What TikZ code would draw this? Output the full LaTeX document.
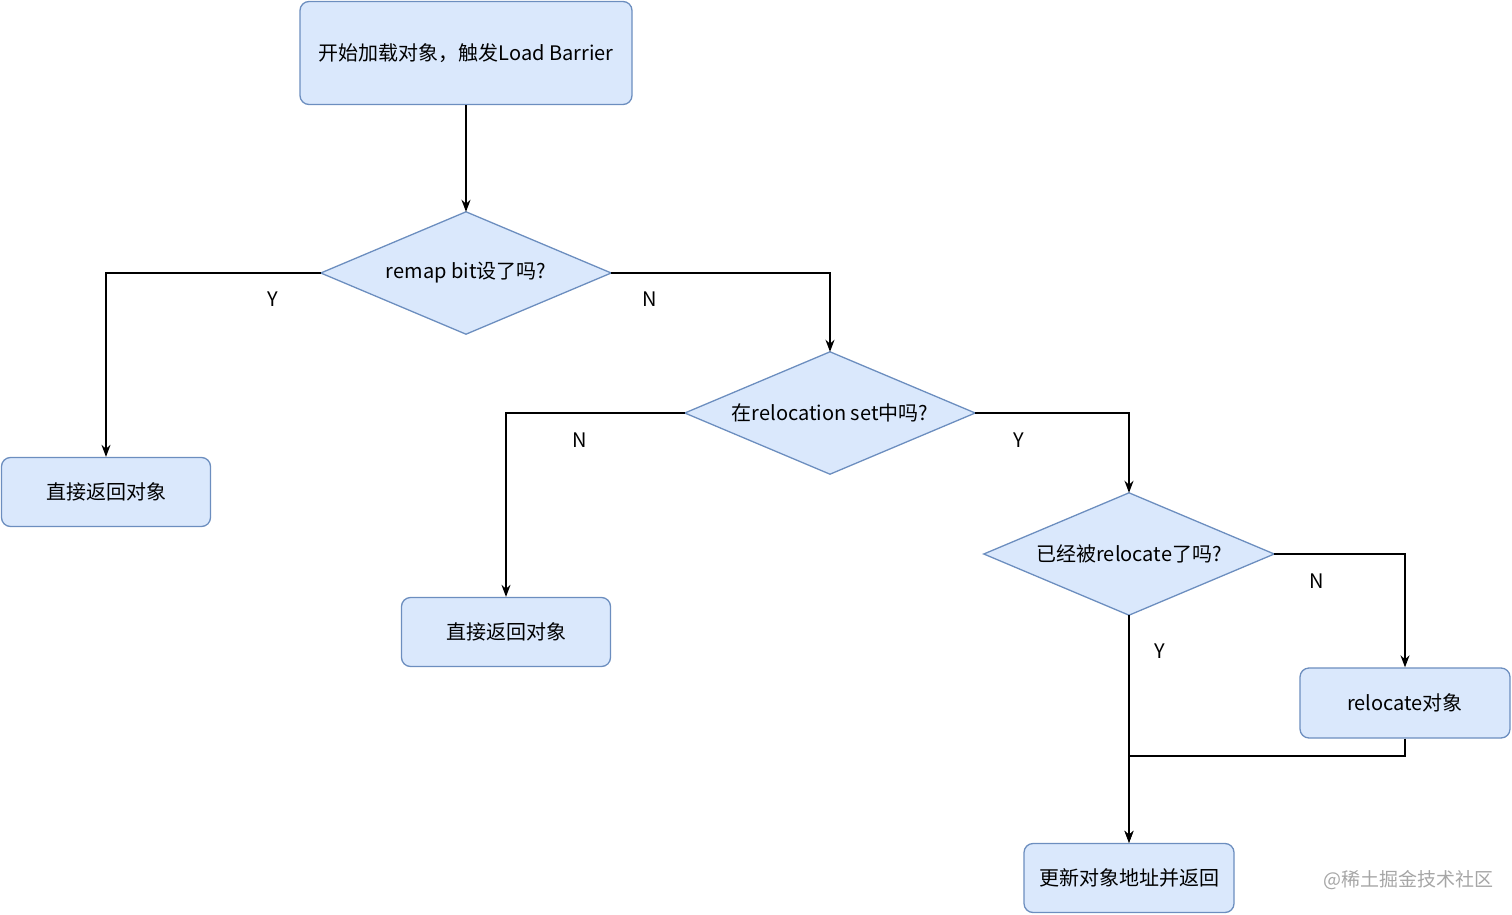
\documentclass[tikz,border=0pt]{standalone}
\usepackage{fontspec}
\setmainfont{Noto Sans CJK SC}
\usetikzlibrary{arrows.meta,backgrounds}
\definecolor{bfill}{HTML}{DAE8FC}
\definecolor{bdraw}{HTML}{6C8EBF}
\begin{document}
\begin{tikzpicture}[x=1pt,y=-1pt,
  box/.style={draw=bdraw,fill=bfill,rounded corners=9pt,line width=1.3pt,inner sep=0pt,font=\fontsize{20}{24}\selectfont},
  dia/.style={inner sep=0pt,minimum width=290pt,minimum height=122pt,font=\fontsize{20}{24}\selectfont},
  dshape/.style={draw=bdraw,fill=bfill,line width=1.3pt},
  arr/.style={-{Stealth[length=12pt,width=9pt]},line width=1.5pt},
  lbl/.style={font=\fontsize{20}{24}\selectfont}]
\useasboundingbox (0,0) rectangle (1512,915);
\node[box,minimum width=332pt,minimum height=103pt] (s) at (466,53) {开始加载对象，触发Load Barrier};
\node[dia] (d1) at (466,273) {remap bit设了吗?};
\node[box,minimum width=209pt,minimum height=69pt] (b1) at (106,492) {直接返回对象};
\node[dia] (d2) at (830,413) {在relocation set中吗?};
\node[box,minimum width=209pt,minimum height=69pt] (b2) at (506,632) {直接返回对象};
\node[dia] (d3) at (1129,554) {已经被relocate了吗?};
\node[box,minimum width=210pt,minimum height=70pt] (r) at (1405,703) {relocate对象};
\node[box,minimum width=210pt,minimum height=69pt] (f) at (1129,878) {更新对象地址并返回};
\node[font=\fontsize{19}{22}\selectfont,text=gray!70] (w) at (1408,880) {@稀土掘金技术社区};
\begin{scope}[on background layer]
\foreach \d in {d1,d2,d3}
  \draw[dshape] (\d.west) -- (\d.north) -- (\d.east) -- (\d.south) -- cycle;
\end{scope}
\coordinate (c1) at (106,273);
\coordinate (c2) at (830,273);
\coordinate (c3) at (506,413);
\coordinate (c4) at (1129,413);
\coordinate (c5) at (1405,554);
\coordinate (c6) at (1405,756);
\coordinate (c7) at (1129,756);
\draw[arr] (s) -- (d1.north);
\draw[arr] (d1.west) -- (c1) -- (b1.north);
\draw[arr] (d1.east) -- (c2) -- (d2.north);
\draw[arr] (d2.west) -- (c3) -- (b2.north);
\draw[arr] (d2.east) -- (c4) -- (d3.north);
\draw[arr] (d3.east) -- (c5) -- (r.north);
\draw[arr] (d3.south) -- (f.north);
\draw[arr] (r.south) -- (c6) -- (c7) -- (f.north);
\node[lbl] (l1) at (273,299) {Y};
\node[lbl] (l2) at (650,299) {N};
\node[lbl] (l3) at (580,440) {N};
\node[lbl] (l4) at (1019,440) {Y};
\node[lbl] (l5) at (1317,581) {N};
\node[lbl] (l6) at (1160,651) {Y};
\end{tikzpicture}
\end{document}
